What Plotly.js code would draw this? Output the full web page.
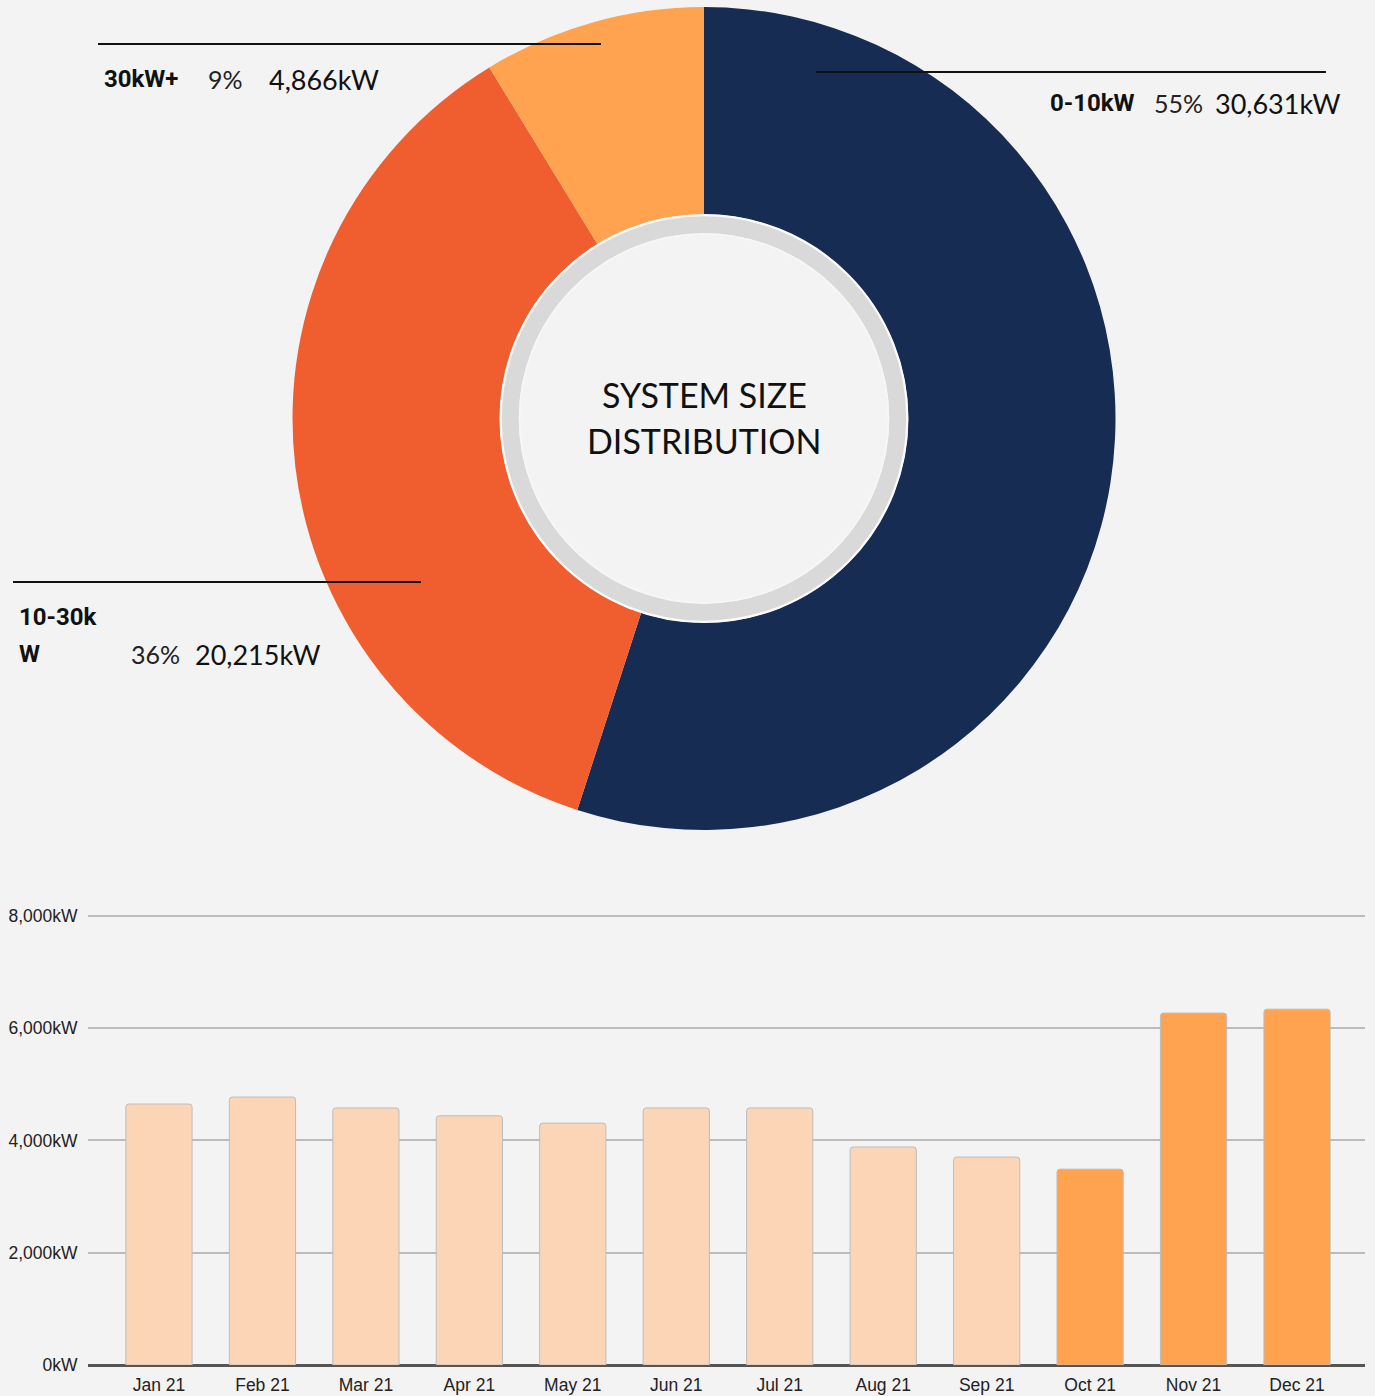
<!DOCTYPE html>
<html>
<head>
<meta charset="utf-8">
<script src="https://cdn.plot.ly/plotly-3.0.1.min.js"></script>
<style>
  html, body { margin: 0; padding: 0; background: #f3f3f3; }
  #chart { width: 1375px; height: 1396px; }
</style>
</head>
<body>
<div id="chart"></div>
<script>
// ---- Data ----
const sizeCategories = ['0-10kW', '10-30kW', '30kW+'];
const sizeValues = [30631, 20215, 4866];
const sizeCenterTitle = ['SYSTEM SIZE', 'DISTRIBUTION'];

const months = ['Jan 21', 'Feb 21', 'Mar 21', 'Apr 21', 'May 21', 'Jun 21',
                'Jul 21', 'Aug 21', 'Sep 21', 'Oct 21', 'Nov 21', 'Dec 21'];
const monthlyKW = [4650, 4775, 4580, 4440, 4310, 4580, 4580, 3885, 3705, 3490, 6270, 6340];
const highlightMonths = ['Oct 21', 'Nov 21', 'Dec 21'];
const yTickValues = [0, 2000, 4000, 6000, 8000];

// ---- Helpers ----
const W = 1375, H = 1396;
const px = x => x / W;
const py = y => 1 - y / H;
const fmt = v => v.toLocaleString('en-US');
const total = sizeValues.reduce((a, b) => a + b, 0);
const pct = v => Math.round(v / total * 100) + '%';

const sliceColors = ['#172c52', '#f05e30', '#ffa351'];
const labelFont = 'Lato, "Liberation Sans", sans-serif';
const boldFont = 'Roboto, "Liberation Sans", sans-serif';

// ---- Traces ----
const donut = {
  type: 'pie',
  labels: sizeCategories,
  values: sizeValues,
  sort: false,
  direction: 'clockwise',
  rotation: 0,
  hole: 0.496,
  textinfo: 'none',
  hoverinfo: 'label+value+percent',
  marker: { colors: sliceColors, line: { width: 0 } },
  domain: { x: [px(704 - 411.5), px(704 + 411.5)], y: [py(830), py(7)] },
  showlegend: false
};

const bars = {
  type: 'bar',
  x: months,
  y: monthlyKW,
  marker: {
    color: months.map(m => highlightMonths.includes(m) ? '#ffa351' : '#fcd5b6'),
    line: { color: '#bdbdbd', width: 1 },
    cornerradius: 3
  },
  xaxis: 'x', yaxis: 'y',
  hovertemplate: '%{x}: %{y:,}kW<extra></extra>',
  showlegend: false
};

// ---- Label layout ----
const labelSpecs = [
  { i: 2, line: [98, 601, 44], items: [[103, 79, 'b'], [207, 79, 'p'], [268, 79, 'v']] },
  { i: 0, line: [816, 1326, 72], items: [[1049, 103, 'b'], [1153, 103, 'p'], [1214, 103, 'v']] },
  { i: 1, line: [13, 421, 582], items: [[18, 617, 'b1'], [18, 654, 'b2'], [130, 654, 'p'], [194, 654, 'v']] }
];

const shapes = [];
const annotations = [];
labelSpecs.forEach(s => {
  shapes.push({ type: 'line', xref: 'paper', yref: 'paper',
    x0: px(s.line[0]), x1: px(s.line[1]), y0: py(s.line[2]), y1: py(s.line[2]),
    line: { color: '#111111', width: 2 } });
  s.items.forEach(([x, y, kind]) => {
    let text, font;
    const c = sizeCategories[s.i];
    const bf = { family: boldFont, size: 24, color: '#111111' };
    if (kind === 'b') {
      text = '<b>' + c + '</b>'; font = bf;
    } else if (kind === 'b1') {
      text = '<b>' + c.slice(0, 6) + '</b>'; font = bf;
    } else if (kind === 'b2') {
      text = '<b>' + c.slice(6) + '</b>'; font = bf;
    } else if (kind === 'p') {
      text = pct(sizeValues[s.i]);
      font = { family: labelFont, size: 25, color: '#222222' };
    } else {
      text = fmt(sizeValues[s.i]) + 'kW';
      font = { family: labelFont, size: 27, color: '#111111' };
    }
    annotations.push({ xref: 'paper', yref: 'paper', x: px(x), y: py(y),
      xanchor: 'left', yanchor: 'middle', align: 'left', showarrow: false,
      text, font, borderpad: 0 });
  });
});

// center title
sizeCenterTitle.forEach((t, k) => {
  annotations.push({ xref: 'paper', yref: 'paper', x: px(704), y: py(394 + k * 47),
    xanchor: 'center', yanchor: 'middle', showarrow: false, text: t,
    font: { family: 'Lato, sans-serif', size: 34, weight: 400, color: '#111111' } });
});

// grey ring inside the hole
const cx = px(704), cy = py(418.5);
function circle(r, color, width) {
  return { type: 'circle', xref: 'paper', yref: 'paper', xsizemode: 'pixel', ysizemode: 'pixel',
    xanchor: cx, yanchor: cy, x0: -r, x1: r, y0: -r, y1: r,
    line: { color, width }, fillcolor: 'rgba(0,0,0,0)' };
}
shapes.push(circle(203, '#fafafa', 3));
shapes.push(circle(193.7, '#d9d9d9', 17));
shapes.push(circle(184.5, '#f7f7f7', 1.5));

// ---- Layout ----
const yTop = 8030;
const pxPerKW = 449 / 8000;
const layout = {
  width: W, height: H,
  margin: { l: 0, r: 0, t: 0, b: 0 },
  paper_bgcolor: '#f3f3f3',
  plot_bgcolor: '#f3f3f3',
  showlegend: false,
  bargap: 0.36,
  xaxis: {
    domain: [px(88), px(1365)],
    range: [-0.686, 11.657],
    showline: true, linecolor: '#555555', linewidth: 2,
    showgrid: false,
    ticks: 'outside', ticklen: 3, tickcolor: 'rgba(0,0,0,0)',
    tickfont: { family: '"Liberation Sans", Arial, sans-serif', size: 17.5, color: '#222222' },
    fixedrange: true
  },
  yaxis: {
    domain: [py(1365), py(1365 - yTop * pxPerKW)],
    range: [0, yTop],
    tickvals: yTickValues,
    ticktext: yTickValues.map(v => fmt(v) + 'kW'),
    showgrid: true, gridcolor: '#bbbbbb', gridwidth: 2,
    zeroline: true, zerolinecolor: '#555555', zerolinewidth: 2,
    showline: false,
    ticks: 'outside', ticklen: 6, tickcolor: 'rgba(0,0,0,0)',
    tickfont: { family: '"Liberation Sans", Arial, sans-serif', size: 17.5, color: '#222222' },
    fixedrange: true
  },
  shapes, annotations
};

Plotly.newPlot('chart', [donut, bars], layout, { displayModeBar: false, staticPlot: true });
</script>
</body>
</html>
